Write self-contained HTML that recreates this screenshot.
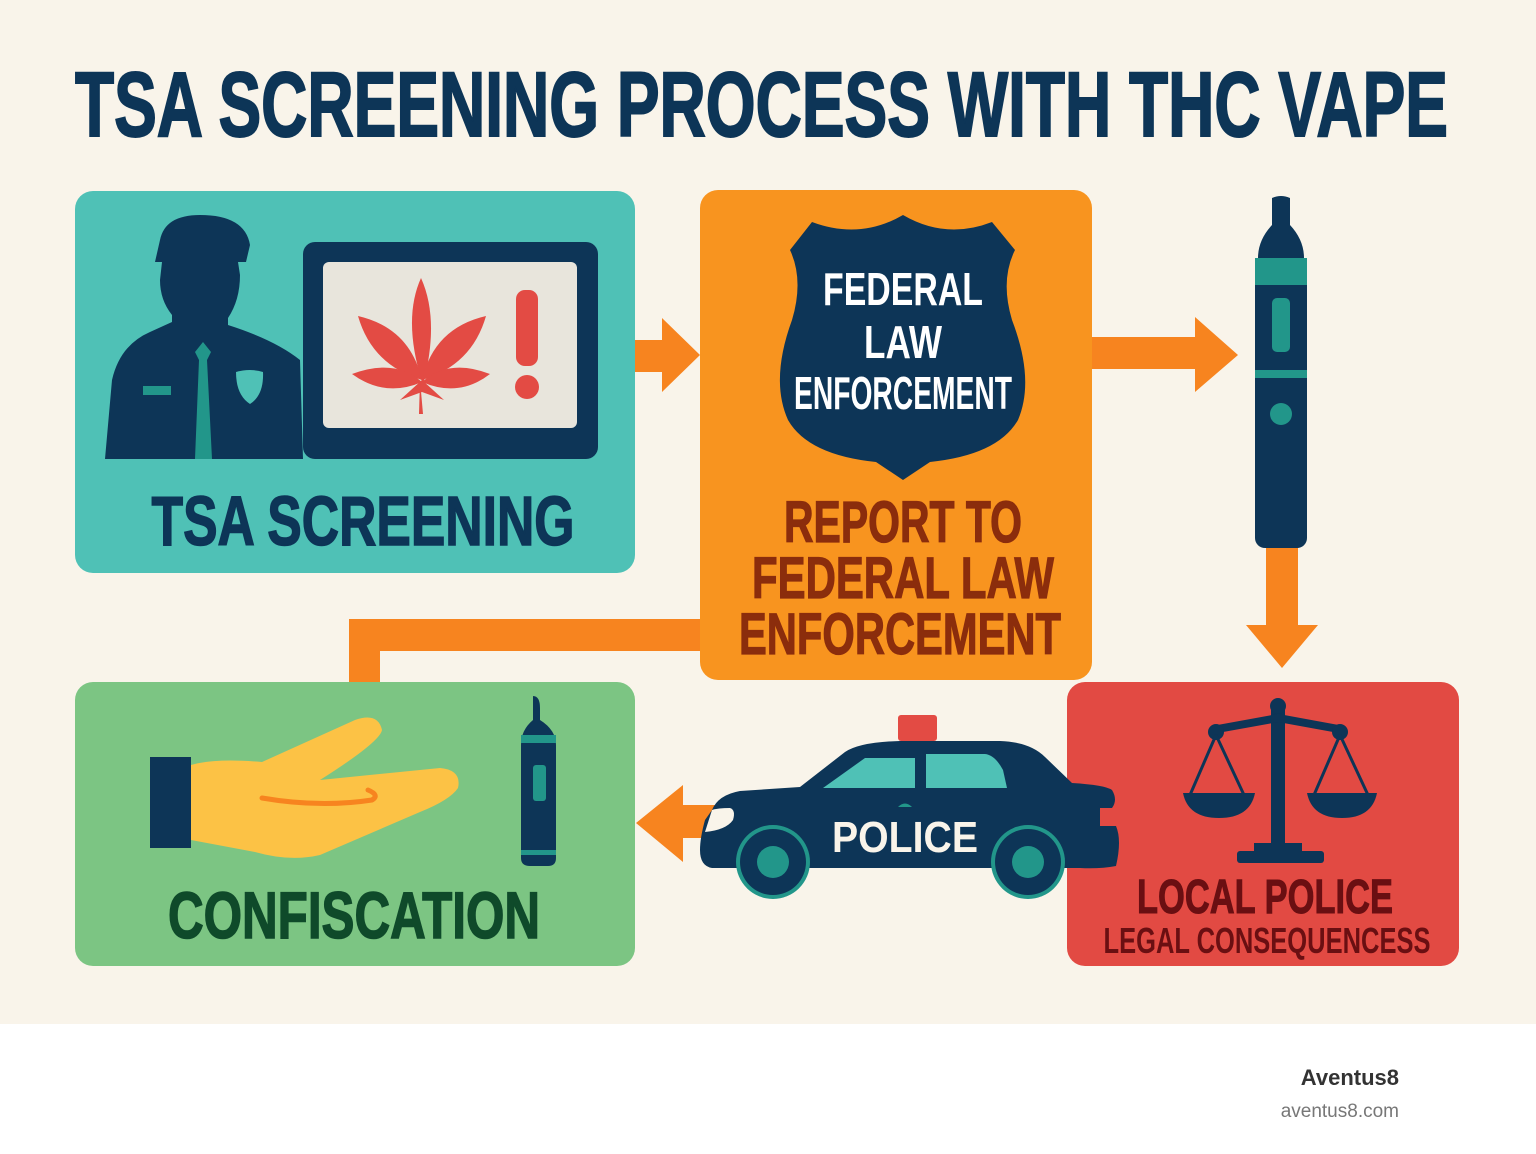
<!DOCTYPE html>
<html><head><meta charset="utf-8"><style>
html,body{margin:0;padding:0;background:#fff}
svg{display:block}
.h{font-family:"Liberation Sans Narrow","Liberation Sans",sans-serif;font-weight:bold}
</style></head><body>
<svg width="1536" height="1154" viewBox="0 0 1536 1154" xmlns="http://www.w3.org/2000/svg">
<rect x="0" y="0" width="1536" height="1024" fill="#f9f4ea"/>
<rect x="0" y="1024" width="1536" height="130" fill="#ffffff"/>
<text class="h" x="75" y="136" font-size="92" fill="#0d3557" stroke="#0d3557" stroke-width="2" textLength="1373" lengthAdjust="spacingAndGlyphs">TSA SCREENING PROCESS WITH THC VAPE</text>

<!-- connectors -->
<path d="M625 340 H662 V318 L700 355 L662 392 V372 H625 Z" fill="#f7841f"/>
<path d="M1090 337 H1195 V317 L1238 355 L1195 392 V369 H1090 Z" fill="#f7841f"/>
<path d="M1266 545 H1298 V625 H1318 L1282 668 L1246 625 H1266 Z" fill="#f7841f"/>
<path d="M705 619 V651 H380 V690 H349 V619 Z" fill="#f7841f"/>
<path d="M636 823 L683 785 V805 H715 V838 H683 V862 Z" fill="#f7841f"/>

<!-- boxes -->
<rect x="75" y="191" width="560" height="382" rx="18" fill="#4fc1b6"/>
<rect x="700" y="190" width="392" height="490" rx="18" fill="#f8941f"/>
<rect x="75" y="682" width="560" height="284" rx="18" fill="#7cc583"/>
<rect x="1067" y="682" width="392" height="284" rx="18" fill="#e24a43"/>

<!-- officer -->
<path d="M160 240 Q165 215 200 215 Q245 215 250 245 L246 262 L238 262 L240 275 Q240 300 228 318 L228 325 Q275 340 300 360 L303 459 H105 L112 380 Q120 345 150 332 L172 322 L172 315 Q160 300 160 280 L162 262 L155 262 Z" fill="#0d3557"/>
<path d="M203 342 L211 352 L207 360 L212 459 H195 L199 360 L195 352 Z" fill="#22968a"/>
<rect x="143" y="386" width="28" height="9" fill="#22968a"/>
<path d="M236 372 Q250 368 263 372 Q264 395 250 404 Q236 395 236 372 Z" fill="#4fc1b6"/>
<!-- monitor -->
<rect x="303" y="242" width="295" height="217" rx="12" fill="#0d3557"/>
<rect x="323" y="262" width="254" height="166" rx="6" fill="#e8e5dc"/>
<g fill="#e34b44">
<path d="M421 278 Q440 320 423 385 Q402 320 421 278 Z"/>
<path d="M358 316 Q410 328 422 380 Q372 365 358 316 Z"/>
<path d="M486 316 Q434 328 422 380 Q472 365 486 316 Z"/>
<path d="M352 374 Q395 358 422 382 Q385 398 352 374 Z"/>
<path d="M490 374 Q449 358 422 382 Q459 398 490 374 Z"/>
<path d="M400 400 L422 380 L444 400 L422 392 Z"/>
<path d="M420 380 L423 414 L419 414 Z"/>
<rect x="516" y="290" width="22" height="76" rx="9"/>
<circle cx="527" cy="387" r="12"/>
</g>
<text class="h" x="363" y="545" font-size="70" fill="#0d3557" stroke="#0d3557" stroke-width="1.5" text-anchor="middle" textLength="423" lengthAdjust="spacingAndGlyphs">TSA SCREENING</text>

<!-- shield -->
<path d="M812 222 Q860 240 903 215 Q946 240 992 222 L1015 250 Q1000 280 1012 320 Q1035 380 1018 420 Q998 455 930 462 L903 480 L876 462 Q808 455 788 420 Q770 380 792 320 Q804 280 790 250 Z" fill="#0d3557"/>
<text class="h" x="903" y="305" font-size="46" fill="#fff" text-anchor="middle" textLength="160" lengthAdjust="spacingAndGlyphs">FEDERAL</text>
<text class="h" x="903" y="358" font-size="46" fill="#fff" text-anchor="middle" textLength="78" lengthAdjust="spacingAndGlyphs">LAW</text>
<text class="h" x="903" y="409" font-size="46" fill="#fff" text-anchor="middle" textLength="218" lengthAdjust="spacingAndGlyphs">ENFORCEMENT</text>
<g fill="#8b2d0c" stroke="#8b2d0c" stroke-width="1.2" class="h" font-size="58" text-anchor="middle">
<text x="903" y="542" textLength="238" lengthAdjust="spacingAndGlyphs">REPORT TO</text>
<text x="903" y="598" textLength="302" lengthAdjust="spacingAndGlyphs">FEDERAL LAW</text>
<text x="900" y="654" textLength="322" lengthAdjust="spacingAndGlyphs">ENFORCEMENT</text>
</g>

<!-- vape -->
<path d="M1272 198 Q1281 194 1290 198 V225 Q1304 240 1304 258 H1258 Q1258 240 1272 225 Z" fill="#0d3557"/>
<rect x="1255" y="256" width="52" height="292" rx="10" fill="#0d3557"/>
<rect x="1255" y="258" width="52" height="27" fill="#22968a"/>
<rect x="1255" y="370" width="52" height="8" fill="#22968a"/>
<rect x="1272" y="298" width="18" height="54" rx="5" fill="#22968a"/>
<circle cx="1281" cy="414" r="11" fill="#22968a"/>

<!-- hand -->
<rect x="150" y="757" width="41" height="91" fill="#0d3557"/>
<path d="M191 765 Q215 758 262 762 L355 720 Q378 712 382 730 Q380 742 320 780 L440 768 Q462 770 458 788 Q450 800 420 812 L320 855 Q290 862 255 852 L191 840 Z" fill="#fcc245"/>
<path d="M262 798 Q320 808 372 800 Q380 795 368 790" stroke="#f7841f" stroke-width="5" fill="none" stroke-linecap="round"/>
<path d="M533 696 Q540 696 540 708 V720 Q556 730 556 745 V858 Q556 866 548 866 H530 Q521 866 521 858 V745 Q521 730 533 720 Z" fill="#0d3557"/>
<rect x="521" y="735" width="35" height="8" fill="#22968a"/>
<rect x="521" y="850" width="35" height="5" fill="#22968a"/>
<rect x="533" y="765" width="13" height="36" rx="3" fill="#22968a"/>
<text class="h" x="354" y="938" font-size="66" fill="#0f4a2a" stroke="#0f4a2a" stroke-width="1.5" text-anchor="middle" textLength="372" lengthAdjust="spacingAndGlyphs">CONFISCATION</text>

<!-- scales -->
<g fill="#0d3557" stroke="#0d3557">
<rect x="1271" y="705" width="14" height="140" stroke="none"/>
<circle cx="1278" cy="706" r="8" stroke="none"/>
<path d="M1212 730 L1278 718 L1344 730" stroke-width="8" fill="none"/>
<circle cx="1216" cy="732" r="8" stroke="none"/><circle cx="1340" cy="732" r="8" stroke="none"/>
<path d="M1216 735 L1190 795 M1216 735 L1244 795 M1340 735 L1314 795 M1340 735 L1368 795" stroke-width="3" fill="none"/>
<path d="M1183 793 H1255 Q1250 818 1219 818 Q1188 818 1183 793 Z" stroke="none"/>
<path d="M1307 793 H1377 Q1372 818 1342 818 Q1312 818 1307 793 Z" stroke="none"/>
<rect x="1254" y="843" width="48" height="10" stroke="none"/>
<rect x="1237" y="851" width="87" height="12" rx="3" stroke="none"/>
</g>
<text class="h" x="1265" y="913" font-size="48" fill="#6a0f12" stroke="#6a0f12" stroke-width="1" text-anchor="middle" textLength="256" lengthAdjust="spacingAndGlyphs">LOCAL POLICE</text>
<text class="h" x="1267" y="953" font-size="36" fill="#6a0f12" text-anchor="middle" textLength="327" lengthAdjust="spacingAndGlyphs">LEGAL CONSEQUENCESS</text>

<!-- car -->
<rect x="898" y="715" width="39" height="26" rx="3" fill="#e34b44"/>
<path d="M800 787 L845 752 Q860 742 900 741 H1000 Q1030 742 1045 757 L1072 783 Q1105 785 1112 790 Q1118 800 1112 808 H1100 V826 H1116 Q1122 840 1116 866 Q1100 869 1080 868 H712 Q700 866 700 850 Q700 838 705 820 L712 810 Q718 795 740 791 Z" fill="#0d3557"/>
<path d="M823 788 L865 758 H915 V788 Z" fill="#4fc1b6"/>
<path d="M926 754 H985 Q995 755 1003 770 L1007 788 H926 Z" fill="#4fc1b6"/>
<path d="M898 807 Q905 800 912 807 Z" fill="#22968a"/>
<path d="M712 810 Q718 808 730 808 Q736 810 733 820 Q726 830 705 832 Z" fill="#f9f4ea"/>
<circle cx="773" cy="862" r="37" fill="#22968a"/>
<circle cx="773" cy="862" r="33" fill="#0d3557"/>
<circle cx="773" cy="862" r="16" fill="#22968a"/>
<circle cx="1028" cy="862" r="37" fill="#22968a"/>
<circle cx="1028" cy="862" r="33" fill="#0d3557"/>
<circle cx="1028" cy="862" r="16" fill="#22968a"/>
<text x="905" y="852" font-family="Liberation Sans,sans-serif" font-weight="bold" font-size="44" fill="#f9f4ea" text-anchor="middle" textLength="146" lengthAdjust="spacingAndGlyphs">POLICE</text>

<!-- footer -->
<text x="1399" y="1085" font-family="Liberation Sans,sans-serif" font-weight="bold" font-size="22" fill="#333" text-anchor="end">Aventus8</text>
<text x="1399" y="1117" font-family="Liberation Sans,sans-serif" font-size="19" fill="#777" text-anchor="end">aventus8.com</text>
</svg>
</body></html>
